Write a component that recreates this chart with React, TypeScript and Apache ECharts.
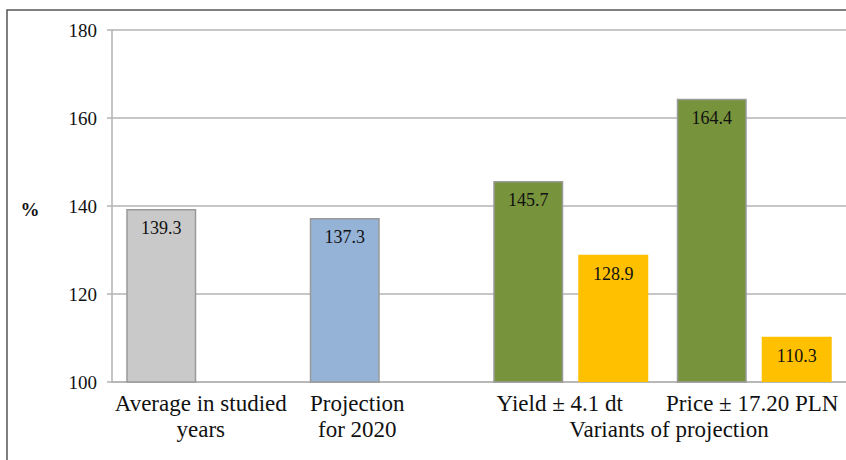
import React, { useEffect, useRef } from "react";
import * as echarts from "echarts";

const categories = ["Average in studied\nyears", "Projection\nfor 2020", "Yield ± 4.1 dt", "Price ± 17.20 PLN"];
const labelShift = [3, 30, 11, 2];
const mainValues = [139.3, 137.3, 145.7, 164.4];
const mainColors = ["#c9c9c9", "#95b3d7", "#77933c", "#77933c"];
const secondValues: (number | null)[] = [null, null, 128.9, 110.3];
const yTicks = { min: 100, max: 180, interval: 20 };
const groupLabel = "Variants of projection";
const yName = "%";

const FONT = "Liberation Serif";

export default function App() {
  const ref = useRef<HTMLDivElement>(null);
  useEffect(() => {
    if (!ref.current) return;
    const chart = echarts.init(ref.current, null, { renderer: "svg" });
    const rich: any = {};
    labelShift.forEach((s, i) => {
      rich["c" + i] = {
        fontFamily: FONT,
        fontSize: 23,
        lineHeight: 26,
        color: "#111",
        padding: [0, 2 * s, 0, 0],
      };
    });
    const valueLabel = {
      show: true,
      position: "insideTop",
      distance: 10,
      textStyle: undefined,
      fontFamily: FONT,
      fontSize: 18,
      color: "#111",
      formatter: (p: any) => (p.value == null ? "" : `{v|${Number(p.value).toFixed(1)}}`),
      rich: { v: { fontFamily: FONT, fontSize: 18, color: "#111" } },
    };
    chart.setOption({
      animation: false,
      backgroundColor: "#fff",
      textStyle: { fontFamily: FONT },
      grid: { left: 112, right: 0, top: 30, bottom: 78, containLabel: false },
      xAxis: {
        type: "category",
        data: categories,
        axisLine: { lineStyle: { color: "#b3b3b3", width: 1.5 } },
        axisTick: { show: false },
        axisLabel: {
          interval: 0,
          margin: 8,
          formatter: (v: string, idx: number) =>
            v
              .split("\n")
              .map((l) => `{c${idx}|${l}}`)
              .join("\n"),
          rich,
        },
      },
      yAxis: {
        type: "value",
        min: yTicks.min,
        max: yTicks.max,
        interval: yTicks.interval,
        axisLine: { show: true, lineStyle: { color: "#b3b3b3", width: 1.5 } },
        axisTick: { show: true, length: 5, lineStyle: { color: "#b3b3b3", width: 1.5 } },
        splitLine: { lineStyle: { color: "#b3b3b3", width: 1.5 } },
        axisLabel: { margin: 15, fontFamily: FONT, fontSize: 19, color: "#111" },
      },
      series: [
        {
          type: "bar",
          barWidth: 70,
          barGap: "21.4%",
          data: mainValues.map((v, i) => ({
            value: v,
            itemStyle: { color: mainColors[i], borderColor: "#9a9a9a", borderWidth: 1.5 },
          })),
          label: valueLabel,
        },
        {
          type: "bar",
          barWidth: 70,
          data: secondValues,
          itemStyle: { color: "#ffc000" },
          label: valueLabel,
        },
      ],
      graphic: [
        {
          type: "rect",
          shape: { x: 7, y: 10, width: 900, height: 500 },
          style: { fill: "none", stroke: "#555", lineWidth: 1.5 },
          silent: true,
        },
        {
          type: "text",
          x: 30,
          y: 209,
          style: {
            text: yName,
            fontFamily: FONT,
            fontSize: 19,
            fontWeight: "bold",
            fill: "#111",
            align: "center",
            verticalAlign: "middle",
          },
        },
        {
          type: "text",
          x: 669,
          y: 429,
          style: {
            text: groupLabel,
            fontFamily: FONT,
            fontSize: 23,
            fill: "#111",
            align: "center",
            verticalAlign: "middle",
          },
        },
      ],
    });
    return () => chart.dispose();
  }, []);
  return (
    <div
      ref={ref}
      style={{ position: "absolute", left: 0, top: 0, width: 846, height: 460 }}
    />
  );
}
